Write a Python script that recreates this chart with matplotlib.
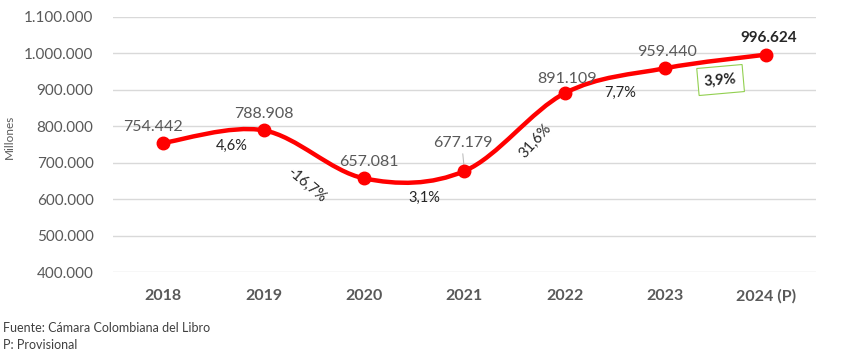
import numpy as np
import matplotlib.pyplot as plt
from matplotlib.path import Path
from matplotlib.patches import PathPatch

plt.rcParams['font.family'] = ['Lato', 'DejaVu Sans']

# datos
years = ['2018', '2019', '2020', '2021', '2022', '2023', '2024 (P)']
values = [754442, 788908, 657081, 677179, 891109, 959440, 996624]
value_labels = ['754.442', '788.908', '657.081', '677.179', '891.109', '959.440', '996.624']
pct_labels = ['4,6%', '-16,7%', '3,1%', '31,6%', '7,7%', '3,9%']
yticks = [400000, 500000, 600000, 700000, 800000, 900000, 1000000, 1100000]
ytick_labels = ['400.000', '500.000', '600.000', '700.000', '800.000', '900.000', '1.000.000', '1.100.000']

RED = '#ff0000'
GRAY = '#595959'

fig = plt.figure(figsize=(8.5, 3.59), dpi=100)
ax = fig.add_axes([113 / 850, 1 - 272 / 359, (816 - 113) / 850, (272 - 17) / 359])

x = np.arange(len(values))
y = np.array(values, dtype=float)

# linea suavizada tipo Excel (bezier con tension 1/6)
verts = [(x[0], y[0])]
codes = [Path.MOVETO]
n = len(x)
for i in range(n - 1):
    p0 = np.array([x[max(i - 1, 0)], y[max(i - 1, 0)]])
    p1 = np.array([x[i], y[i]])
    p2 = np.array([x[i + 1], y[i + 1]])
    p3 = np.array([x[min(i + 2, n - 1)], y[min(i + 2, n - 1)]])
    c1 = p1 + (p2 - p0) / 6
    c2 = p2 - (p3 - p1) / 6
    verts += [tuple(c1), tuple(c2), tuple(p2)]
    codes += [Path.CURVE4] * 3
ax.add_patch(PathPatch(Path(verts, codes), facecolor='none', edgecolor=RED,
                       lw=3.2, capstyle='round', joinstyle='round', zorder=3))
ax.plot(x, y, 'o', color=RED, ms=9, zorder=4)

ax.set_xlim(-0.5, n - 0.5)
ax.set_ylim(400000, 1100000)
ax.set_yticks(yticks)
ax.set_yticklabels(ytick_labels, color=GRAY, fontsize=11)
ax.set_xticks(x)
ax.set_xticklabels(years, color=GRAY, fontsize=11.5, fontweight='bold')
ax.tick_params(length=0, axis='y', pad=14)
ax.tick_params(length=0, axis='x', pad=12)
ax.grid(axis='y', color='#d9d9d9', lw=1)
ax.set_axisbelow(True)
for s in ax.spines.values():
    s.set_visible(False)

ax.set_ylabel('Millones', color=GRAY, fontsize=8.5, labelpad=8)
ax.yaxis.set_label_coords(-0.14, 0.53)

# etiquetas de valores
offsets = [(-10, 16), (0, 16), (5, 16), (-2, 28), (2, 14), (2, 16), (3, 17)]
for i, (lab, off) in enumerate(zip(value_labels, offsets)):
    last = i == n - 1
    ax.annotate(lab, (x[i], y[i]), xytext=off, textcoords='offset pixels',
                ha='center', va='center', fontsize=11.5 if not last else 11,
                color=GRAY if not last else '#262626',
                fontweight='bold' if last else 'normal', zorder=5)
# linea guia 2021
ax.annotate('', (x[3], y[3]), xytext=(-2, 20), textcoords='offset pixels',
            arrowprops=dict(arrowstyle='-', color='#bfbfbf', lw=0.8))

# etiquetas de variacion
pct_pos = [(0.68, 746000, 0), (1.43, 639000, -40), (2.6, 603000, 0),
           (3.71, 760000, 48), (4.55, 891400, 0), (5.55, 927000, 5)]
for i, (lab, (px, py, rot)) in enumerate(zip(pct_labels, pct_pos)):
    last = i == len(pct_labels) - 1
    kw = {}
    if last:
        kw['bbox'] = dict(boxstyle='square,pad=0.45', fc='white', ec='#92d050', lw=0.8)
    ax.text(px, py, lab, ha='center', va='center', rotation=rot,
            fontsize=10.5, color='#262626',
            fontweight='bold' if last else 'normal', zorder=5, **kw)

fig.text(3 / 850, 1 - 328 / 359, 'Fuente: Cámara Colombiana del Libro',
         fontsize=9, color='#404040', va='center', ha='left')
fig.text(3 / 850, 1 - 345 / 359, 'P: Provisional',
         fontsize=9, color='#404040', va='center', ha='left')

fig.savefig('out.png', dpi=100)
